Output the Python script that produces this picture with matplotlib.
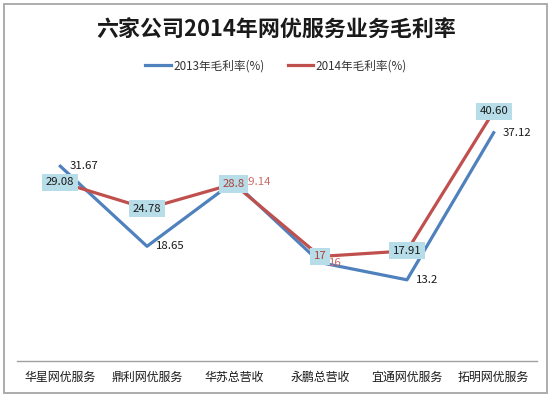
import matplotlib
matplotlib.use("Agg")
import matplotlib.pyplot as plt
from matplotlib.patches import Rectangle

plt.rcParams['font.family'] = ['Noto Sans CJK SC', 'DejaVu Sans']

categories = ['华星网优服务', '鼎利网优服务', '华苏总营收', '永鹏总营收', '宜通网优服务', '拓明网优服务']
rate_2013 = [31.67, 18.65, 29.14, 16, 13.2, 37.12]
rate_2014 = [29.08, 24.78, 28.8, 17, 17.91, 40.60]
labels_2013 = ['31.67', '18.65', '29.14', '16', '13.2', '37.12']
labels_2014 = ['29.08', '24.78', '28.8', '17', '17.91', '40.60']
label_colors_2013 = ['#1a1a1a', '#1a1a1a', '#c86a66', '#c86a66', '#1a1a1a', '#1a1a1a']
label_colors_2014 = ['#1a1a1a', '#1a1a1a', '#b0403c', '#b0403c', '#1a1a1a', '#1a1a1a']

W, H = 554, 397
fig = plt.figure(figsize=(W / 100, H / 100), dpi=100)
fig.patch.set_facecolor('white')

# outer border
fig.add_artist(Rectangle((4 / W, (H - 393) / H), 543 / W, 389 / H,
                         transform=fig.transFigure, fill=False,
                         edgecolor='#a6a6a6', linewidth=1.3))

ax = fig.add_axes([17 / W, (H - 361) / H, 520 / W, 276.75 / H])
ax.set_xlim(-0.5, 5.5)
ax.set_ylim(0, 45)
for s in ['top', 'right', 'left']:
    ax.spines[s].set_visible(False)
ax.spines['bottom'].set_color('#a0a0a0')
ax.spines['bottom'].set_linewidth(1.0)
ax.set_yticks([])
x = list(range(len(categories)))
ax.set_xticks(x)
ax.set_xticklabels(categories, fontsize=8.6, color='#1a1a1a')
ax.tick_params(axis='x', length=0, pad=7)

blue = '#4f81bd'
red = '#c0504d'
ax.plot(x, rate_2013, color=blue, linewidth=2.3, label='2013年毛利率(%)', zorder=2)
ax.plot(x, rate_2014, color=red, linewidth=2.3, label='2014年毛利率(%)', zorder=3)

for xi, v, t, c in zip(x, rate_2013, labels_2013, label_colors_2013):
    ax.annotate(t, (xi, v), xytext=(9, 0), textcoords='offset pixels',
                ha='left', va='center', fontsize=8.2, color=c, zorder=4)

for xi, v, t, c in zip(x, rate_2014, labels_2014, label_colors_2014):
    ax.annotate(t, (xi, v), xytext=(0, 0), textcoords='offset pixels',
                ha='center', va='center', fontsize=8.2, color=c, zorder=6,
                bbox=dict(boxstyle='square,pad=0.32', facecolor='#b7dde8',
                          edgecolor='none'))

fig.text(276 / W, 1 - 30 / H, '六家公司2014年网优服务业务毛利率', ha='center', va='center',
         fontsize=15.8, fontweight='bold', color='#1a1a1a')

leg = fig.legend(loc='center', bbox_to_anchor=(276 / W, 1 - 66 / H), ncol=2,
                 frameon=False, prop={'size': 8.4}, handlelength=2.2,
                 handletextpad=0.2, columnspacing=2.0)
for t in leg.get_texts():
    t.set_color('#333333')

fig.savefig('out.png', dpi=100)
